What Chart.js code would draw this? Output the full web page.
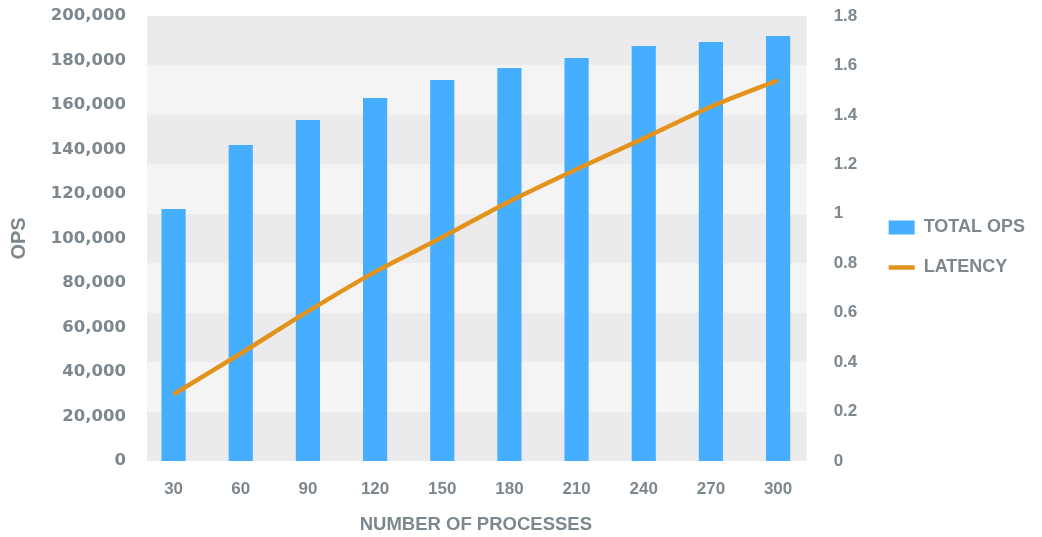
<!DOCTYPE html>
<html>
<head>
<meta charset="utf-8">
<title>Total ops and latency</title>
<script src="https://cdn.jsdelivr.net/npm/chart.js@4"></script>
<style>
  html, body { margin: 0; padding: 0; background: #fff; }
</style>
</head>
<body>
<canvas id="opsChart" width="1042" height="537"></canvas>
<script>
// data
const processes = ['30', '60', '90', '120', '150', '180', '210', '240', '270', '300'];
const totalOps = [113300, 142000, 153300, 163100, 171200, 176600, 181100, 186500, 188300, 191000];
const latency = [0.27, 0.435, 0.605, 0.765, 0.905, 1.05, 1.18, 1.305, 1.433, 1.54];

const opsMax = 200000;
const opsStep = 20000;
const latencyMax = 1.8;
const latencyStep = 0.2;

const textGray = '#7d878e';

// alternating grey bands behind the bars, one per latency tick
const bandPlugin = {
    id: 'bands',
    beforeDatasetsDraw(chart) {
        const { ctx, chartArea } = chart;
        const scale = chart.scales.y1;
        const ticks = scale.ticks;
        const left = chartArea.left + 7;
        const right = chartArea.right - 5;
        ctx.save();
        for (let i = 0; i < ticks.length - 1; i++) {
            const yBottom = scale.getPixelForValue(ticks[i].value);
            const yTop = scale.getPixelForValue(ticks[i + 1].value);
            ctx.fillStyle = i % 2 === 0 ? '#ebebed' : '#f4f4f4';
            ctx.fillRect(left, yTop, right - left, yBottom - yTop);
        }
        ctx.restore();
    }
};

const ctx = document.getElementById('opsChart').getContext('2d');
const opsChart = new Chart(ctx, {
    type: 'bar',
    data: {
        labels: processes,
        datasets: [{
            label: 'TOTAL OPS',
            data: totalOps,
            backgroundColor: '#45aeff',
            borderWidth: 0,
            barPercentage: 0.36,
            categoryPercentage: 1,
            pointStyle: 'rect',
            yAxisID: 'y',
            order: 1
        }, {
            type: 'line',
            label: 'LATENCY',
            data: latency,
            borderColor: '#e3931b',
            backgroundColor: '#e3931b',
            borderWidth: 4.5,
            tension: 0.3,
            pointRadius: 0,
            pointStyle: 'line',
            fill: false,
            yAxisID: 'y1',
            order: 0
        }]
    },
    options: {
        responsive: false,
        animation: false,
        layout: {
            padding: { top: 16, right: 7, left: 0, bottom: 0 }
        },
        plugins: {
            legend: {
                position: 'right',
                fullSize: false,
                title: {
                    display: true,
                    text: ' ',
                    font: { size: 15, lineHeight: 1.2 },
                    padding: 0
                },
                labels: {
                    usePointStyle: true,
                    pointStyleWidth: 26,
                    boxHeight: 14,
                    padding: 22,
                    color: textGray,
                    font: { family: 'Liberation Sans', size: 18, weight: 'bold' },
                    sort: (a, b) => a.datasetIndex - b.datasetIndex
                }
            },
            tooltip: { enabled: false }
        },
        scales: {
            x: {
                grid: { display: false, drawTicks: false },
                border: { display: false },
                ticks: {
                    padding: 18,
                    color: textGray,
                    font: { family: 'Liberation Sans', size: 17, weight: 'bold' }
                },
                title: {
                    display: true,
                    text: 'NUMBER OF PROCESSES',
                    color: textGray,
                    padding: { top: 0, bottom: 1 },
                    font: { family: 'Liberation Sans', size: 18.5, weight: 'bold' }
                },
                afterFit(scale) { scale.height = 76; }
            },
            y: {
                position: 'left',
                min: 0,
                max: opsMax,
                grid: { display: false, drawTicks: false },
                border: { display: false },
                ticks: {
                    stepSize: opsStep,
                    padding: 14,
                    color: textGray,
                    font: { family: 'DejaVu Sans', size: 16.5, weight: 'bold' },
                    callback: function (value) {
                        return value.toLocaleString('en-US');
                    }
                },
                title: {
                    display: true,
                    text: 'OPS',
                    color: textGray,
                    padding: { top: 7, bottom: 0 },
                    font: { family: 'Liberation Sans', size: 20, weight: 'bold' }
                },
                afterFit(scale) {
                    scale.width = 140;
                    scale.paddingTop = 0;
                }
            },
            y1: {
                position: 'right',
                min: 0,
                max: latencyMax,
                grid: { display: false, drawTicks: false },
                border: { display: false },
                ticks: {
                    stepSize: latencyStep,
                    padding: 22,
                    color: textGray,
                    font: { family: 'Liberation Sans', size: 17, weight: 'bold' },
                    callback: function (value) {
                        return String(Math.round(value * 10) / 10);
                    }
                },
                afterFit(scale) {
                    scale.width = 55;
                    scale.paddingTop = 0;
                }
            }
        }
    },
    plugins: [bandPlugin]
});
</script>
</body>
</html>
